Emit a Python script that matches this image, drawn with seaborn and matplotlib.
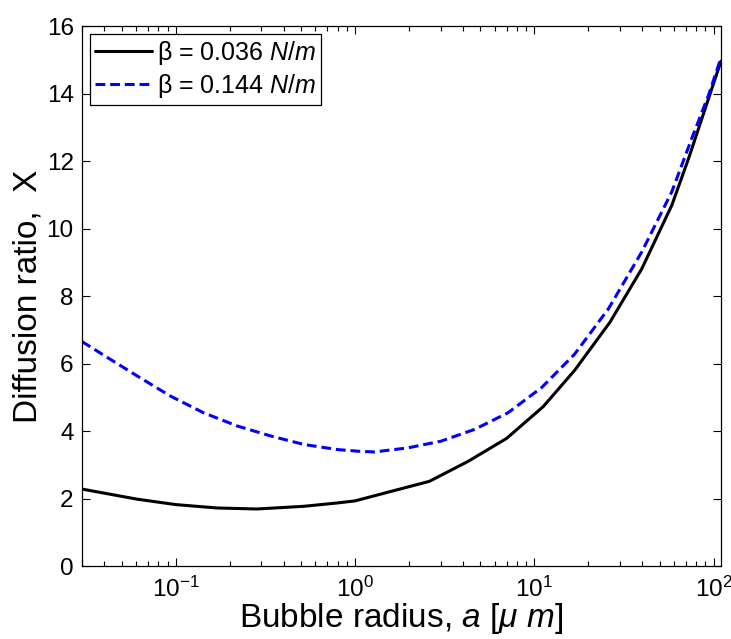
#!/usr/bin/env python3
"""Diffusion ratio vs bubble radius for two surface-tension values (seaborn)."""

import matplotlib
matplotlib.use("Agg")
import matplotlib.pyplot as plt
from matplotlib.ticker import LogLocator, NullFormatter
import pandas as pd
import seaborn as sns

# values
radius_low = [0.030, 0.061, 0.10, 0.17, 0.284, 0.52, 0.80, 1.0, 1.46, 2.6,
              4.27, 7.0, 11.2, 16.8, 26.4, 39.8, 58.5, 72.6, 94.0, 110.0]
ratio_low = [2.28, 1.98, 1.82, 1.72, 1.69, 1.77, 1.87, 1.93, 2.16, 2.51,
             3.10, 3.78, 4.72, 5.80, 7.22, 8.81, 10.69, 12.08, 13.87, 14.96]

radius_high = [0.030, 0.043, 0.061, 0.093, 0.143, 0.22, 0.34, 0.52, 0.80,
               1.05, 1.28, 1.97, 3.02, 4.65, 7.13, 11.0, 16.8, 25.9, 39.8,
               58.5, 75.7, 94.0, 110.0]
ratio_high = [6.65, 6.13, 5.63, 5.04, 4.54, 4.15, 3.85, 3.60, 3.45, 3.40,
              3.38, 3.50, 3.70, 4.05, 4.54, 5.29, 6.28, 7.62, 9.31, 11.09,
              12.68, 13.97, 15.06]

label_low = "β = 0.036 $\\mathit{N/m}$"
label_high = "β = 0.144 $\\mathit{N/m}$"

sns.set_style("ticks")
plt.rcParams["font.family"] = ["Liberation Sans", "DejaVu Sans"]
plt.rcParams["mathtext.fontset"] = "custom"
plt.rcParams["mathtext.rm"] = "Liberation Sans"
plt.rcParams["mathtext.it"] = "Liberation Sans:italic"
plt.rcParams["mathtext.bf"] = "Liberation Sans:bold"
for key in ("text.color", "axes.labelcolor", "xtick.color", "ytick.color",
            "axes.edgecolor"):
    plt.rcParams[key] = "black"

fig = plt.figure(figsize=(7.31, 6.39), dpi=100)
ax = fig.add_axes([0.1122, 0.1142, 0.8741, 0.8451])

df_low = pd.DataFrame({"radius": radius_low, "ratio": ratio_low})
df_high = pd.DataFrame({"radius": radius_high, "ratio": ratio_high})

sns.lineplot(data=df_low, x="radius", y="ratio", ax=ax, color="black",
             linewidth=2.2, label=label_low, sort=False)
sns.lineplot(data=df_high, x="radius", y="ratio", ax=ax, color="#0000ff",
             linewidth=2.2, linestyle=(0, (3.2, 1.6)), label=label_high,
             sort=False)

ax.set_xscale("log")
ax.set_xlim(0.03, 110)
ax.set_ylim(0, 16)
ax.set_yticks(range(0, 17, 2))
ax.xaxis.set_minor_locator(LogLocator(base=10, subs=range(2, 10), numticks=20))
ax.xaxis.set_minor_formatter(NullFormatter())

ax.tick_params(which="both", direction="in", top=True, right=True,
               labelsize=17.5, width=0.8, color="black", labelcolor="black")
ax.tick_params(which="major", length=6, pad=6)
ax.tick_params(axis="x", which="major", pad=8)
ax.tick_params(which="minor", length=3.5)
for s in ax.spines.values():
    s.set_linewidth(0.9)
    s.set_color("black")

ax.set_xlabel("Bubble radius, $\\mathit{a\\ [μ\\ m]}$", fontsize=24, labelpad=-1)
ax.set_ylabel("Diffusion ratio,  Χ", fontsize=24, labelpad=2)

leg = ax.legend(loc="upper left", fontsize=18, frameon=True, fancybox=False,
                edgecolor="black", handlelength=2.3, handletextpad=0.2,
                borderpad=0.2, labelspacing=0.2, borderaxespad=0.3)
leg.get_frame().set_linewidth(0.9)
leg.get_frame().set_alpha(1)

fig.savefig("out.png", dpi=100)
